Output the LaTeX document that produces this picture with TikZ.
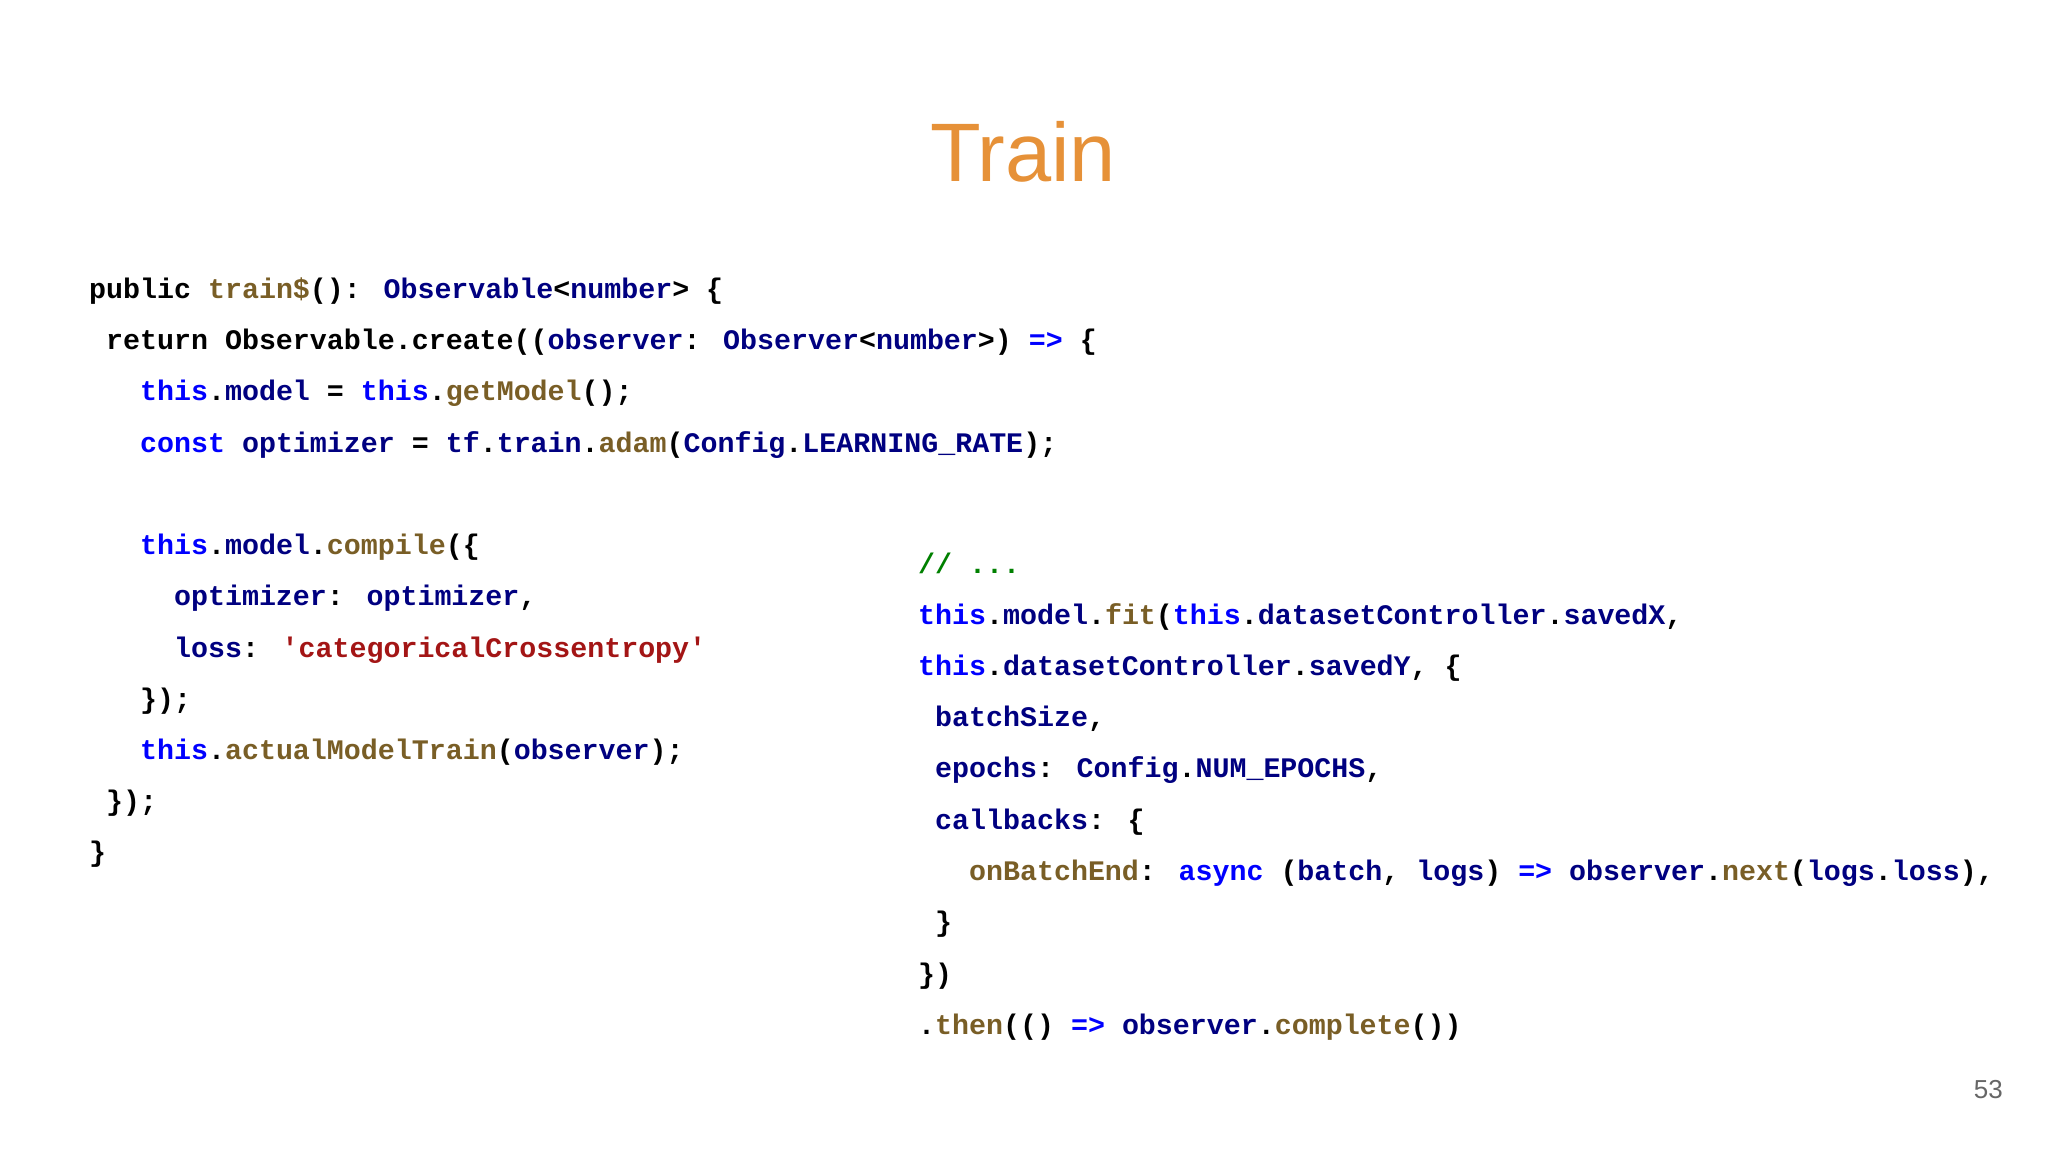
\documentclass[tikz,border=0pt]{standalone}
\usepackage{fontspec}
\setmainfont{Liberation Sans}
\newfontfamily\codefont{Liberation Mono}
\definecolor{kw}{RGB}{0,0,255}
\definecolor{nv}{RGB}{0,0,128}
\definecolor{fn}{RGB}{121,94,38}
\definecolor{st}{RGB}{163,21,21}
\definecolor{cm}{RGB}{0,128,0}
\definecolor{ttl}{RGB}{230,145,56}
\newcommand{\K}[1]{\textcolor{kw}{#1}}
\newcommand{\N}[1]{\textcolor{nv}{#1}}
\newcommand{\F}[1]{\textcolor{fn}{#1}}
\newcommand{\Sr}[1]{\textcolor{st}{#1}}
\newcommand{\Cm}[1]{\textcolor{cm}{#1}}
\begin{document}
\begin{tikzpicture}[x=1pt,y=-1pt,
  ln/.style={anchor=base west,inner sep=0pt,font=\codefont\bfseries\fontsize{28.3}{30}\selectfont,text=black}]
\useasboundingbox (0,0) rectangle (2048,1152);
\node[anchor=base,inner sep=0pt,text=ttl,font=\fontsize{83}{90}\selectfont] (title) at (1023,181) {Train};
\node[ln] (l1) at (89,298) {public \F{train\$}(): \N{Observable}<\N{number}> \{};
\node[ln] (l2) at (89,349) {\ return Observable.create((\N{observer}: \N{Observer}<\N{number}>) \K{=>} \{};
\node[ln] (l3) at (89,400) {\ \ \ \K{this}.\N{model} = \K{this}.\F{getModel}();};
\node[ln] (l4) at (89,452) {\ \ \ \K{const} \N{optimizer} = \N{tf}.\N{train}.\F{adam}(\N{Config}.\N{LEARNING\_RATE});};
\node[ln] (l5) at (89,554) {\ \ \ \K{this}.\N{model}.\F{compile}(\{};
\node[ln] (l6) at (89,605) {\ \ \ \ \ \N{optimizer}: \N{optimizer},};
\node[ln] (l7) at (89,657) {\ \ \ \ \ \N{loss}: \Sr{'categoricalCrossentropy'}};
\node[ln] (l8) at (89,708) {\ \ \ \});};
\node[ln] (l9) at (89,759) {\ \ \ \K{this}.\F{actualModelTrain}(\N{observer});};
\node[ln] (l10) at (89,810) {\ \});};
\node[ln] (l11) at (89,861) {\}};
\node[ln] (r1) at (918,573) {\Cm{// ...}};
\node[ln] (r2) at (918,624) {\K{this}.\N{model}.\F{fit}(\K{this}.\N{datasetController}.\N{savedX},};
\node[ln] (r3) at (918,675) {\K{this}.\N{datasetController}.\N{savedY}, \{};
\node[ln] (r4) at (918,726) {\ \N{batchSize},};
\node[ln] (r5) at (918,777) {\ \N{epochs}: \N{Config}.\N{NUM\_EPOCHS},};
\node[ln] (r6) at (918,829) {\ \N{callbacks}: \{};
\node[ln] (r7) at (918,880) {\ \ \ \F{onBatchEnd}: \K{async} (\N{batch}, \N{logs}) \K{=>} \N{observer}.\F{next}(\N{logs}.\N{loss}),};
\node[ln] (r8) at (918,931) {\ \}};
\node[ln] (r9) at (918,983) {\})};
\node[ln] (r10) at (918,1034) {.\F{then}(() \K{=>} \N{observer}.\F{complete}())};
\node[anchor=base east,inner sep=0pt,text=black!60,font=\fontsize{26}{28}\selectfont] (pg) at (2003,1098) {53};
\end{tikzpicture}
\end{document}
